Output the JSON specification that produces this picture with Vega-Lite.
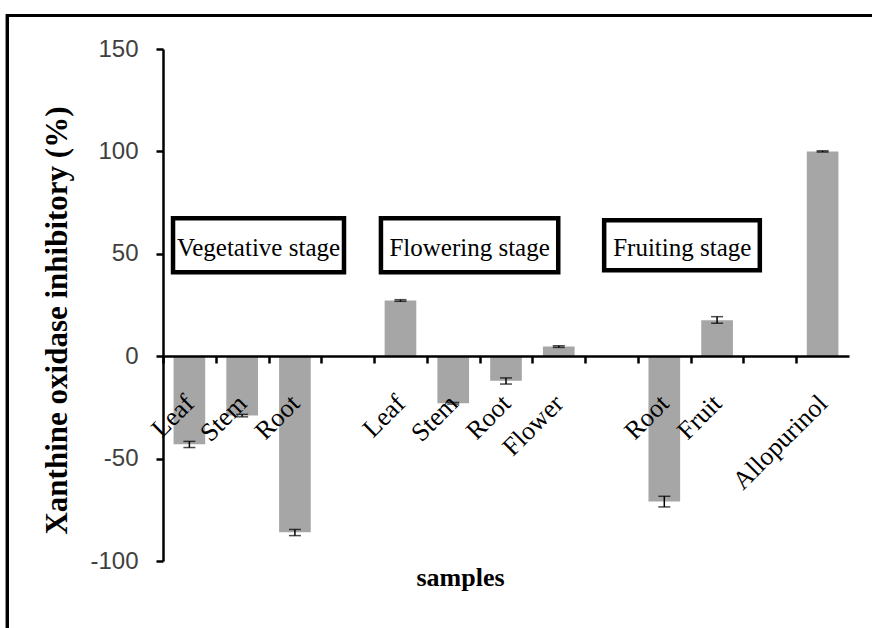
{
  "$schema": "https://vega.github.io/schema/vega-lite/v6.json",
  "width": 686,
  "height": 512,
  "autosize": {"type": "none"},
  "padding": {"left": 163, "top": 49, "right": 23, "bottom": 67},
  "background": "white",
  "config": {"view": {"stroke": null}},
  "datasets": {
    "samples": [
      {"id": "Vegetative|Leaf", "value": -43, "lo": -44.6, "hi": -41.6},
      {"id": "Vegetative|Stem", "value": -29, "lo": -29.6, "hi": -28.4},
      {"id": "Vegetative|Root", "value": -86, "lo": -87.6, "hi": -84.6},
      {"id": "Flowering|Leaf", "value": 27.2, "lo": 26.8, "hi": 27.6},
      {"id": "Flowering|Stem", "value": -23, "lo": -23.4, "hi": -22.6},
      {"id": "Flowering|Root", "value": -12, "lo": -13.6, "hi": -10.6},
      {"id": "Flowering|Flower", "value": 4.7, "lo": 4.3, "hi": 5.1},
      {"id": "Fruiting|Root", "value": -71, "lo": -73.6, "hi": -68.4},
      {"id": "Fruiting|Fruit", "value": 17.5, "lo": 16.1, "hi": 19.3},
      {"id": "Control|Allopurinol", "value": 100, "lo": 99.7, "hi": 100.3}
    ],
    "stages": [
      {"stage": "Vegetative  stage", "x1": 0.19, "x2": 3.43, "y1": 67.4, "y2": 41, "xc": 1.81, "yc": 53},
      {"stage": "Flowering  stage", "x1": 4.13, "x2": 7.49, "y1": 67.4, "y2": 41, "xc": 5.81, "yc": 53},
      {"stage": "Fruiting  stage", "x1": 8.36, "x2": 11.31, "y1": 66.4, "y2": 42, "xc": 9.84, "yc": 53}
    ]
  },
  "layer": [
    {
      "data": {"name": "samples"},
      "encoding": {
        "x": {
          "field": "id",
          "type": "nominal",
          "sort": null,
          "scale": {
            "domain": ["Vegetative|Leaf", "Vegetative|Stem", "Vegetative|Root", "gap1", "Flowering|Leaf", "Flowering|Stem", "Flowering|Root", "Flowering|Flower", "gap2", "Fruiting|Root", "Fruiting|Fruit", "gap3", "Control|Allopurinol"],
            "paddingInner": 0.4,
            "paddingOuter": 0.2
          },
          "axis": {
            "orient": "bottom",
            "offset": -205,
            "zindex": 1,
            "labelExpr": "indexof(datum.value, '|') >= 0 ? split(datum.value, '|')[1] : ''",
            "labelAngle": -45,
            "labelAlign": "right",
            "labelBaseline": "middle",
            "labelFont": "Liberation Serif",
            "labelFontSize": 26,
            "labelColor": "#000000",
            "labelPadding": 36,
            "labelOverlap": false,
            "ticks": true,
            "tickOffset": -26.38,
            "labelOffset": 26.38,
            "tickSize": 7,
            "tickWidth": 2.5,
            "tickColor": "#000000",
            "domainColor": "#000000",
            "domainWidth": 2.5,
            "grid": false,
            "title": "samples",
            "titleFont": "Liberation Serif",
            "titleFontSize": 26,
            "titleFontWeight": "bold",
            "titleColor": "#000000",
            "titleX": 297,
            "titleY": 229,
            "titleBaseline": "alphabetic"
          }
        },
        "y": {
          "field": "value",
          "type": "quantitative",
          "scale": {"domain": [-100, 150], "nice": false},
          "axis": {
            "values": [-100, -50, 0, 50, 100, 150],
            "labelExpr": "'' + datum.value",
            "labelFont": "Liberation Sans",
            "labelFontSize": 24,
            "labelColor": "#404040",
            "labelPadding": 18,
            "tickSize": 7,
            "tickWidth": 2.5,
            "tickColor": "#000000",
            "domainColor": "#000000",
            "domainWidth": 2.5,
            "grid": false,
            "title": "Xanthine oxidase inhibitory  (%)",
            "titleFont": "Liberation Serif",
            "titleFontSize": 31,
            "titleFontWeight": "bold",
            "titleColor": "#000000",
            "titleX": -106,
            "titleY": 271,
            "titleBaseline": "middle"
          }
        }
      },
      "layer": [
        {"mark": {"type": "bar", "color": "#a6a6a6"}},
        {"mark": {"type": "rule", "color": "#000000", "strokeWidth": 1.5}, "encoding": {"y": {"field": "lo", "type": "quantitative"}, "y2": {"field": "hi"}}},
        {"mark": {"type": "tick", "color": "#000000", "thickness": 1.5, "size": 12}, "encoding": {"y": {"field": "lo", "type": "quantitative"}}},
        {"mark": {"type": "tick", "color": "#000000", "thickness": 1.5, "size": 12}, "encoding": {"y": {"field": "hi", "type": "quantitative"}}}
      ]
    },
    {
      "data": {"name": "stages"},
      "layer": [
        {
          "mark": {"type": "rect", "fill": "white", "stroke": "#000000", "strokeWidth": 4.5},
          "encoding": {
            "x": {"field": "x1", "type": "quantitative", "scale": {"domain": [0, 13], "nice": false, "zero": false}, "axis": null},
            "x2": {"field": "x2"},
            "y": {"field": "y1", "type": "quantitative", "axis": null},
            "y2": {"field": "y2"}
          }
        },
        {
          "mark": {"type": "text", "font": "Liberation Serif", "fontSize": 25, "color": "#000000", "align": "center", "baseline": "middle"},
          "encoding": {
            "x": {"field": "xc", "type": "quantitative", "axis": null},
            "y": {"field": "yc", "type": "quantitative", "axis": null},
            "text": {"field": "stage"}
          }
        },
        {
          "mark": {"type": "rect", "fill": "transparent", "stroke": "#000000", "strokeWidth": 3},
          "encoding": {
            "x": {"datum": -2.95, "type": "quantitative", "axis": null},
            "x2": {"datum": 20},
            "y": {"datum": 166.4, "type": "quantitative", "axis": null},
            "y2": {"datum": -200}
          }
        }
      ]
    }
  ],
  "resolve": {"scale": {"x": "independent"}, "axis": {"y": "independent"}}
}
